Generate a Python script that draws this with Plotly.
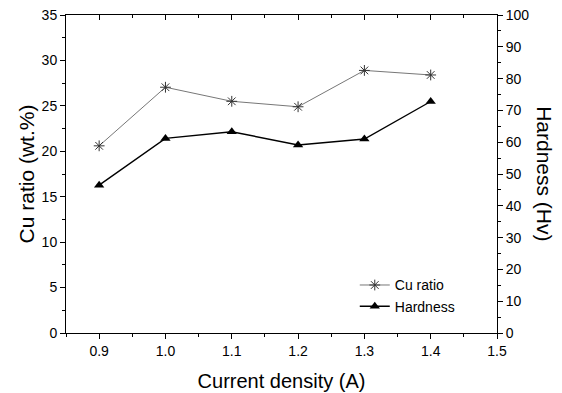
import plotly.graph_objects as go

current_density = [0.9, 1.0, 1.1, 1.2, 1.3, 1.4]
cu_ratio = [20.6, 27.05, 25.5, 24.9, 28.9, 28.4]
hardness = [46.5, 61.2, 63.3, 59.1, 61.0, 72.8]

x_ticks = [0.9, 1.0, 1.1, 1.2, 1.3, 1.4, 1.5]
x_tick_labels = ["0.9", "1.0", "1.1", "1.2", "1.3", "1.4", "1.5"]

FONT = "Liberation Sans, Arial, sans-serif"

fig = go.Figure()
fig.add_trace(go.Scatter(
    x=current_density, y=cu_ratio, name="Cu ratio", mode="lines+markers",
    line=dict(color="#777777", width=1),
    marker=dict(symbol="asterisk-open", size=9, color="#333333", line=dict(width=1, color="#333333")),
    yaxis="y"))
fig.add_trace(go.Scatter(
    x=current_density, y=hardness, name="Hardness", mode="lines+markers",
    line=dict(color="black", width=1.4),
    marker=dict(symbol="triangle-up", size=9, color="black"),
    yaxis="y2"))
fig.add_trace(go.Scatter(x=[], y=[], xaxis="x2", yaxis="y", showlegend=False))

axis_common = dict(showgrid=False, zeroline=False, showline=True, linecolor="black", linewidth=1,
                   automargin=False, ticklabeloverflow="allow",
                   tickcolor="black", tickfont=dict(family=FONT, size=14, color="black"))

fig.update_layout(
    width=554, height=385,
    margin=dict(l=58, r=65, t=7, b=60),
    plot_bgcolor="white", paper_bgcolor="white",
    font=dict(family=FONT, color="black"),
    xaxis=dict(range=[0.85, 1.5], tickvals=x_ticks, ticktext=x_tick_labels, ticks="outside", ticklen=5,
               minor=dict(dtick=0.05, tick0=0.85, ticks="outside", ticklen=3, tickcolor="black"),
               title=dict(text="Current density (A)", font=dict(size=20, family=FONT), standoff=16),
               **axis_common),
    xaxis2=dict(range=[0.85, 1.5], overlaying="x", side="top", anchor="y", tickvals=x_ticks,
                showticklabels=False, ticks="inside", ticklen=5,
                minor=dict(dtick=0.05, tick0=0.85, ticks="inside", ticklen=3, tickcolor="black"),
                **axis_common),
    yaxis=dict(range=[0, 35], dtick=5, ticks="outside", ticklen=5,
               minor=dict(dtick=2.5, ticks="outside", ticklen=3, tickcolor="black"),
               title=dict(text="Cu ratio (wt.%)", font=dict(size=21, family=FONT), standoff=1),
               **axis_common),
    yaxis2=dict(range=[0, 100], dtick=10, ticks="outside", ticklen=5, overlaying="y", side="right",
                anchor="x",
                minor=dict(dtick=5, ticks="outside", ticklen=3, tickcolor="black"),
                **axis_common),
    annotations=[dict(text="Hardness (Hv)", textangle=90, xref="paper", yref="paper",
                      x=1.111, y=0.5, xanchor="center", yanchor="middle", showarrow=False,
                      font=dict(size=21, family=FONT, color="black"))],
    legend=dict(x=0.67, y=0.20, xanchor="left", yanchor="top", bgcolor="rgba(0,0,0,0)",
                font=dict(size=14, family=FONT), tracegroupgap=0, itemwidth=30),
    showlegend=True,
)

fig.write_html("out.html")
